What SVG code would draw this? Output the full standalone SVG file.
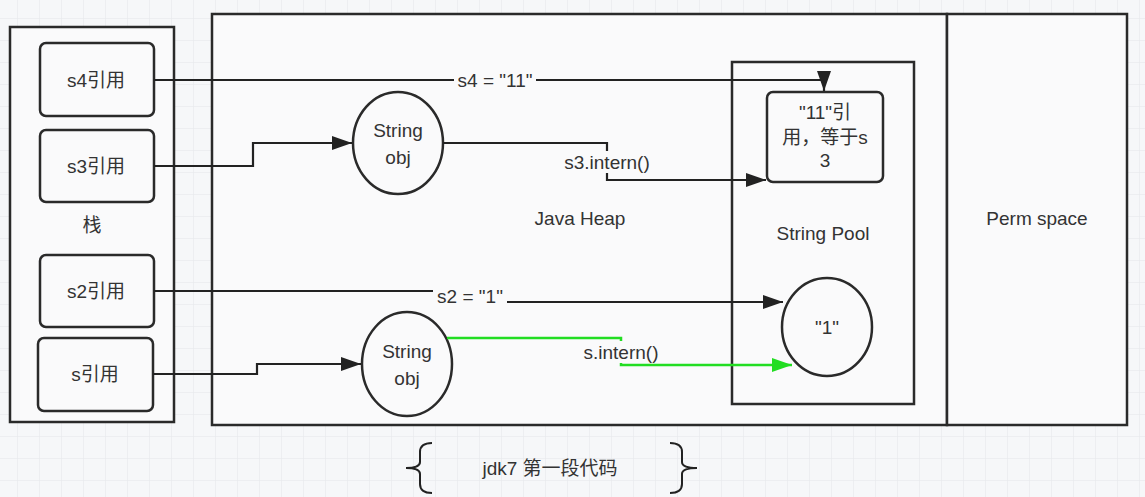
<svg xmlns="http://www.w3.org/2000/svg" width="1145" height="497" viewBox="0 0 1145 497">
<defs>
<pattern id="grid" x="17" y="18" width="22" height="22" patternUnits="userSpaceOnUse">
<path d="M0,0 H22 M0,0 V22" fill="none" stroke="#e4e6ea" stroke-width="1"/>
</pattern>
<marker id="ah" markerWidth="20" markerHeight="14" refX="20" refY="7" orient="auto" markerUnits="userSpaceOnUse">
<path d="M0,0 L20,7 L0,14 Z" fill="#222"/>
</marker>
<marker id="ahg" markerWidth="20" markerHeight="14" refX="20" refY="7" orient="auto" markerUnits="userSpaceOnUse">
<path d="M0,0 L20,7 L0,14 Z" fill="#22dd22"/>
</marker>
</defs>
<style>
.box{fill:#fafafb;stroke:#2a2a2a;stroke-width:2.5}
.rbox{fill:#fafafb;stroke:#2a2a2a;stroke-width:2.5}
.t{font-family:"Liberation Sans","Noto Sans CJK SC",sans-serif;font-size:19px;fill:#333;text-anchor:middle}
.c{fill:none;stroke:#222;stroke-width:2.2}
.g{fill:none;stroke:#22dd22;stroke-width:2.5}
.lbg{fill:#fafafb}
</style>
<rect width="1145" height="497" fill="#f6f7f9"/>
<rect width="1145" height="497" fill="url(#grid)"/>

<g id="stack">
<rect class="box" x="10" y="27" width="164" height="395"/>
<text class="t" x="92" y="232">栈</text>
</g>
<g id="heap">
<rect class="box" x="212" y="14" width="735" height="411"/>
<text class="t" x="580" y="225">Java Heap</text>
</g>
<g id="perm">
<rect class="box" x="947" y="14" width="180" height="411"/>
<text class="t" x="1037" y="225">Perm space</text>
</g>
<g id="pool">
<rect class="box" x="732" y="62" width="182" height="342"/>
<text class="t" x="823" y="240">String Pool</text>
</g>

<g id="s4ref"><rect class="rbox" x="40" y="43" width="114" height="73" rx="6"/><text class="t" x="96" y="87">s4引用</text></g>
<g id="s3ref"><rect class="rbox" x="40" y="130" width="114" height="72" rx="6"/><text class="t" x="96" y="173">s3引用</text></g>
<g id="s2ref"><rect class="rbox" x="40" y="255" width="114" height="72" rx="6"/><text class="t" x="96" y="298">s2引用</text></g>
<g id="sref"><rect class="rbox" x="38" y="338" width="115" height="73" rx="6"/><text class="t" x="95" y="381">s引用</text></g>

<g id="obj1"><ellipse class="rbox" cx="398" cy="143" rx="45" ry="51"/><text class="t" x="398" y="137">String</text><text class="t" x="398" y="164">obj</text></g>
<g id="obj2"><ellipse class="rbox" cx="407" cy="364" rx="45" ry="52"/><text class="t" x="407" y="358">String</text><text class="t" x="407" y="385">obj</text></g>
<g id="str11"><rect class="rbox" x="767" y="92" width="116" height="90" rx="6"/><text class="t" x="825" y="119">"11"引</text><text class="t" x="825" y="144">用，等于s</text><text class="t" x="825" y="167">3</text></g>
<g id="str1"><ellipse class="rbox" cx="827" cy="327" rx="45" ry="49"/><text class="t" x="827" y="334">"1"</text></g>

<g id="connectors">
<path class="c" d="M154,80 H824 V91" marker-end="url(#ah)"/>
<rect class="lbg" x="454" y="69" width="82" height="22"/>
<text class="t" x="495" y="87">s4 = "11"</text>

<path class="c" d="M154,166 H253 V143 H352" marker-end="url(#ah)"/>
<path class="c" d="M443,143 H607 V180 H766" marker-end="url(#ah)"/>
<rect class="lbg" x="561" y="151" width="92" height="22"/>
<text class="t" x="607" y="169">s3.intern()</text>

<path class="c" d="M154,291 H470 V302 H783" marker-end="url(#ah)"/>
<rect class="lbg" x="433" y="285" width="74" height="22"/>
<text class="t" x="470" y="303">s2 = "1"</text>

<path class="c" d="M153,374 H257 V364 H361" marker-end="url(#ah)"/>
<path class="g" d="M447,338 H621 V365 H792" marker-end="url(#ahg)"/>
<rect class="lbg" x="580" y="341" width="82" height="22"/>
<text class="t" x="621" y="359">s.intern()</text>
</g>

<g id="note">
<path d="M432,443 Q420,443 420,452 V462 Q420,468 406,468 Q420,468 420,474 V484 Q420,493 432,493" fill="none" stroke="#222" stroke-width="2"/>
<path d="M670,443 Q682,443 682,452 V462 Q682,468 697,468 Q682,468 682,474 V484 Q682,493 670,493" fill="none" stroke="#222" stroke-width="2"/>
<text class="t" x="550" y="475">jdk7 第一段代码</text>
</g>
</svg>
